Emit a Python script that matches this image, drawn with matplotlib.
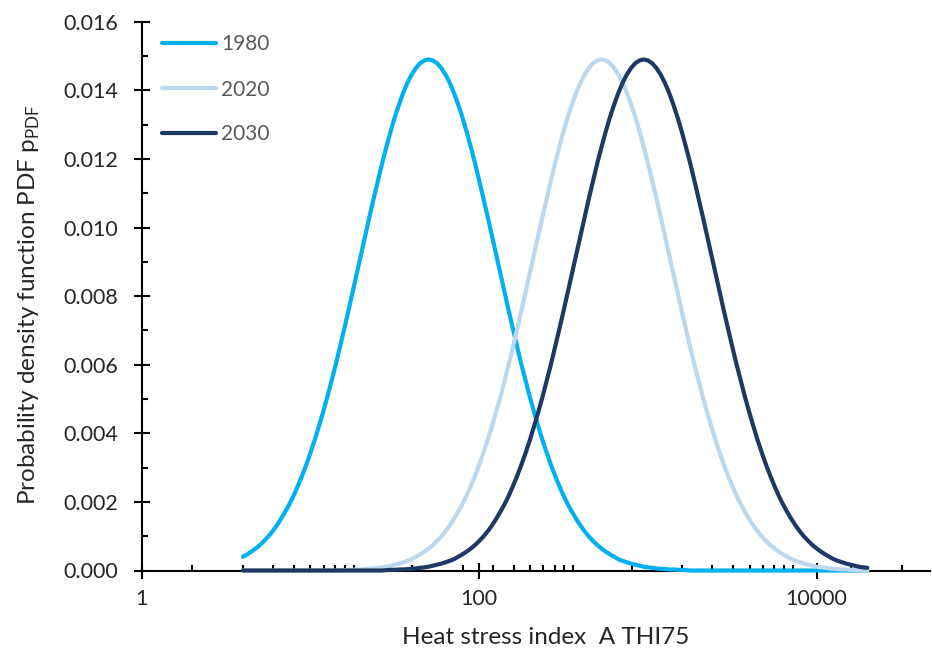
import matplotlib
matplotlib.use("Agg")
import matplotlib.pyplot as plt
from matplotlib.ticker import FixedLocator, FixedFormatter

# ---------------------------------------------------------
# PDF of heat stress index A_THI75 for three periods
# (log-spaced x)
# ---------------------------------------------------------

heat_index = [
    3.981, 4.217, 4.467, 4.732, 5.012, 5.309, 5.623, 5.957, 6.310, 6.683,
    7.079, 7.499, 7.943, 8.414, 8.913, 9.441,
    10, 10.59, 11.22, 11.89, 12.59, 13.34, 14.13, 14.96, 15.85, 16.79,
    17.78, 18.84, 19.95, 21.13, 22.39, 23.71, 25.12, 26.61, 28.18, 29.85,
    31.62, 33.50, 35.48, 37.58, 39.81, 42.17, 44.67, 47.32, 50.12, 53.09,
    56.23, 59.57, 63.10, 66.83, 70.79, 74.99, 79.43, 84.14, 89.13, 94.41,
    100, 105.9, 112.2, 118.9, 125.9, 133.4, 141.3, 149.6, 158.5, 167.9,
    177.8, 188.4, 199.5, 211.3, 223.9, 237.1, 251.2, 266.1, 281.8, 298.5,
    316.2, 335.0, 354.8, 375.8, 398.1, 421.7, 446.7, 473.2, 501.2, 530.9,
    562.3, 595.7, 631.0, 668.3, 707.9, 749.9, 794.3, 841.4, 891.3, 944.1,
    1000, 1059, 1122, 1189, 1259, 1334, 1413, 1496, 1585, 1679,
    1778, 1884, 1995, 2113, 2239, 2371, 2512, 2661, 2818, 2985,
    3162, 3350, 3548, 3758, 3981, 4217, 4467, 4732, 5012, 5309,
    5623, 5957, 6310, 6683, 7079, 7499, 7943, 8414, 8913, 9441,
    10000, 10590, 11220, 11890, 12590, 13340, 14130, 14960, 15850, 16790,
    17780, 18840, 19950,
]

pdf_1980 = [
    0.00040, 0.00047, 0.00055,
    0.00064, 0.00074, 0.00086, 0.00099, 0.00114, 0.00131, 0.00150, 0.00171, 0.00193, 0.00218,
    0.00246, 0.00276, 0.00308, 0.00343, 0.00380, 0.00420, 0.00462, 0.00506, 0.00553, 0.00601,
    0.00652, 0.00704, 0.00757, 0.00812, 0.00867, 0.00922, 0.00977, 0.01032, 0.01085, 0.01137,
    0.01188, 0.01235, 0.01280, 0.01322, 0.01359, 0.01393, 0.01422, 0.01446, 0.01465, 0.01479,
    0.01487, 0.01490, 0.01487,
    0.01479, 0.01465, 0.01446, 0.01422, 0.01393, 0.01359, 0.01322, 0.01280, 0.01235, 0.01188,
    0.01137, 0.01085, 0.01032, 0.00977, 0.00922, 0.00867, 0.00812, 0.00757, 0.00704, 0.00652,
    0.00601, 0.00553, 0.00506, 0.00462, 0.00420, 0.00380, 0.00343, 0.00308, 0.00276, 0.00246,
    0.00218, 0.00193, 0.00171, 0.00150, 0.00131, 0.00114, 0.00099, 0.00086, 0.00074, 0.00064,
    0.00055, 0.00047, 0.00040, 0.00033, 0.00028, 0.00024, 0.00020, 0.00017, 0.00014, 0.00011,
    0.00009, 0.00008, 0.00006, 0.00005, 0.00004, 0.00003, 0.00003, 0.00002, 0.00002, 0.00001,
    0, 0, 0, 0, 0, 0, 0, 0, 0, 0, 0, 0, 0, 0, 0, 0, 0, 0, 0, 0, 0, 0,
    0, 0, 0, 0, 0, 0, 0, 0, 0, 0, 0, 0, 0, 0, 0, 0, 0, 0, 0, 0, 0,
]

pdf_2020 = [
    0, 0, 0, 0, 0, 0, 0, 0, 0, 0, 0, 0, 0, 0, 0, 0, 0, 0, 0, 0, 0, 0, 0, 0,
    0.00001, 0.00002, 0.00002, 0.00003, 0.00003, 0.00004, 0.00005, 0.00006, 0.00008, 0.00009,
    0.00011, 0.00014, 0.00017, 0.00020, 0.00024, 0.00028, 0.00033, 0.00040, 0.00047, 0.00055,
    0.00064, 0.00074, 0.00086, 0.00099, 0.00114, 0.00131, 0.00150, 0.00171, 0.00193, 0.00218,
    0.00246, 0.00276, 0.00308, 0.00343, 0.00380, 0.00420, 0.00462, 0.00506, 0.00553, 0.00601,
    0.00652, 0.00704, 0.00757, 0.00812, 0.00867, 0.00922, 0.00977, 0.01032, 0.01085, 0.01137,
    0.01188, 0.01235, 0.01280, 0.01322, 0.01359, 0.01393, 0.01422, 0.01446, 0.01465, 0.01479,
    0.01487, 0.01490, 0.01487,
    0.01479, 0.01465, 0.01446, 0.01422, 0.01393, 0.01359, 0.01322, 0.01280, 0.01235, 0.01188,
    0.01137, 0.01085, 0.01032, 0.00977, 0.00922, 0.00867, 0.00812, 0.00757, 0.00704, 0.00652,
    0.00601, 0.00553, 0.00506, 0.00462, 0.00420, 0.00380, 0.00343, 0.00308, 0.00276, 0.00246,
    0.00218, 0.00193, 0.00171, 0.00150, 0.00131, 0.00114, 0.00099, 0.00086, 0.00074, 0.00064,
    0.00055, 0.00047, 0.00040, 0.00033, 0.00028, 0.00024, 0.00020, 0.00017, 0.00014, 0.00011,
    0.00009, 0.00008, 0.00006, 0.00005, 0.00004, 0.00003, 0.00003, 0.00002, 0.00002, 0.00001,
    0, 0,
]

pdf_2030 = [
    0, 0, 0, 0, 0, 0, 0, 0, 0, 0, 0, 0, 0, 0, 0, 0, 0,
    0, 0, 0, 0, 0, 0, 0, 0, 0, 0, 0, 0, 0, 0, 0, 0, 0,
    0.00001, 0.00002, 0.00002, 0.00003, 0.00003, 0.00004, 0.00005, 0.00006, 0.00008, 0.00009,
    0.00011, 0.00014, 0.00017, 0.00020, 0.00024, 0.00028, 0.00033, 0.00040, 0.00047, 0.00055,
    0.00064, 0.00074, 0.00086, 0.00099, 0.00114, 0.00131, 0.00150, 0.00171, 0.00193, 0.00218,
    0.00246, 0.00276, 0.00308, 0.00343, 0.00380, 0.00420, 0.00462, 0.00506, 0.00553, 0.00601,
    0.00652, 0.00704, 0.00757, 0.00812, 0.00867, 0.00922, 0.00977, 0.01032, 0.01085, 0.01137,
    0.01188, 0.01235, 0.01280, 0.01322, 0.01359, 0.01393, 0.01422, 0.01446, 0.01465, 0.01479,
    0.01487, 0.01490, 0.01487,
    0.01479, 0.01465, 0.01446, 0.01422, 0.01393, 0.01359, 0.01322, 0.01280, 0.01235, 0.01188,
    0.01137, 0.01085, 0.01032, 0.00977, 0.00922, 0.00867, 0.00812, 0.00757, 0.00704, 0.00652,
    0.00601, 0.00553, 0.00506, 0.00462, 0.00420, 0.00380, 0.00343, 0.00308, 0.00276, 0.00246,
    0.00218, 0.00193, 0.00171, 0.00150, 0.00131, 0.00114, 0.00099, 0.00086, 0.00074, 0.00064,
    0.00055, 0.00047, 0.00040, 0.00033, 0.00028, 0.00024, 0.00020, 0.00017, 0.00014, 0.00011,
    0.00009, 0.00008,
]

series_labels = ["1980", "2020", "2030"]
series_colors = ["#00B0F0", "#BDD7EE", "#1F3864"]

x_major = [1, 100, 10000]
x_major_labels = ["1", "100", "10000"]
# Excel put its minor ticks in steps of 2, 40, 800, 16000
x_minor = ([2 * k for k in range(1, 10)] + [40 * k for k in range(1, 10)]
           + [800 * k for k in range(1, 10)] + [16000, 32000])

plt.rcParams["font.family"] = ["Lato", "DejaVu Sans"]
plt.rcParams["mathtext.fontset"] = "custom"
plt.rcParams["mathtext.rm"] = "Lato"

text_col = "#262626"

fig = plt.figure(figsize=(9.32, 6.52), dpi=100)
W, H = 932, 652
ax_left, ax_right, ax_bottom, ax_top = 141.7, 930, 570.5, 21.7
ax = fig.add_axes([ax_left / W, 1 - ax_bottom / H,
                   (ax_right - ax_left) / W, (ax_bottom - ax_top) / H])

for ys, lab, col in zip([pdf_1980, pdf_2020, pdf_2030], series_labels, series_colors):
    ax.plot(heat_index, ys, color=col, linewidth=3, label=lab,
            solid_capstyle="round", solid_joinstyle="round",
            clip_on=False, zorder=3)

ax.set_xscale("log")
ax.set_xlim(1, 10 ** ((ax_right - ax_left) / 168.75))
ax.set_ylim(0, 0.016)

ax.xaxis.set_major_locator(FixedLocator(x_major))
ax.xaxis.set_major_formatter(FixedFormatter(x_major_labels))
ax.xaxis.set_minor_locator(FixedLocator(x_minor))
ax.xaxis.set_minor_formatter(FixedFormatter([]))

ax.set_yticks([i * 0.002 for i in range(9)])
ax.set_yticklabels([f"{i * 0.002:.3f}" for i in range(9)])
ax.set_yticks([0.001 + i * 0.002 for i in range(8)], minor=True)

for s in ["top", "right"]:
    ax.spines[s].set_visible(False)
for s in ["left", "bottom"]:
    ax.spines[s].set_linewidth(1.5)
    ax.spines[s].set_color("black")

ax.tick_params(axis="both", which="major", direction="inout", length=11,
               width=1.5, labelsize=15.5, labelcolor=text_col, color="black")
ax.tick_params(axis="both", which="minor", direction="in", length=4.5,
               width=1.5, color="black")
ax.tick_params(axis="x", which="major", pad=8)
ax.tick_params(axis="y", which="major", pad=11.5)

ax.set_xlabel("Heat stress index  A THI75", fontsize=17.5, color=text_col)
ax.xaxis.set_label_coords((546 - ax_left) / (ax_right - ax_left), -0.103)

fig.text(29 / W, 1 - 305 / H,
         r"Probability density function PDF p$_{\mathregular{PDF}}$",
         rotation=90, fontsize=17.5, color=text_col, ha="center", va="center")

leg = ax.legend(loc="upper left", bbox_to_anchor=(162 / W, 1 - 34.5 / H),
                bbox_transform=fig.transFigure, frameon=False, fontsize=15,
                handlelength=2.6, handletextpad=0.25, labelspacing=1.2,
                borderpad=0, borderaxespad=0)
for t in leg.get_texts():
    t.set_color("#595959")

fig.savefig("out.png", dpi=100)
plt.close(fig)
